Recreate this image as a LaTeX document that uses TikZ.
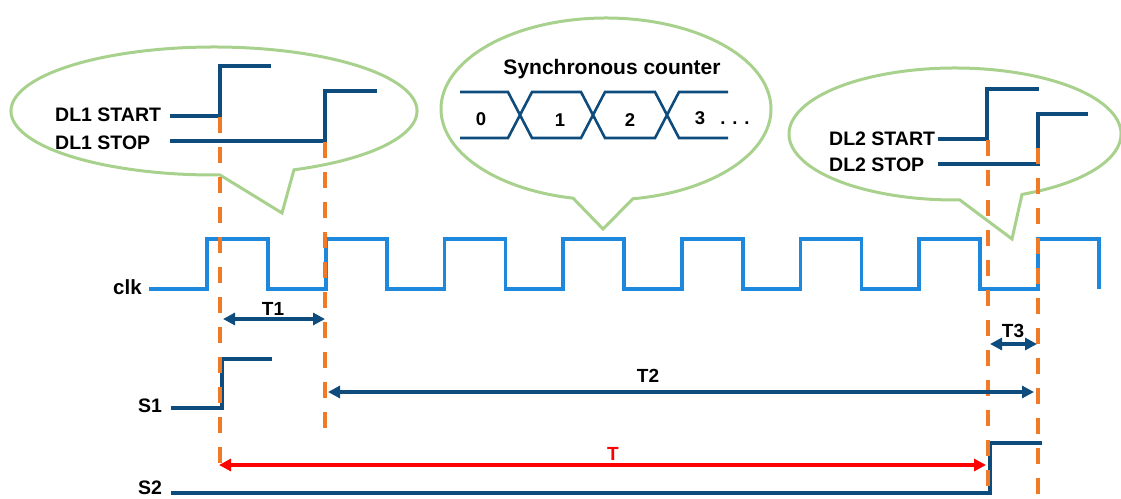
\documentclass[tikz,border=0pt]{standalone}
\usepackage{fontspec}
\setmainfont{Liberation Sans}
\usetikzlibrary{arrows.meta,calc}

\definecolor{sigblue}{HTML}{0E4C7E}
\definecolor{clkblue}{HTML}{1E88DC}
\definecolor{bubblegreen}{HTML}{A9D18E}
\definecolor{markorange}{HTML}{F07A26}
\definecolor{spanred}{HTML}{FF0000}

\begin{document}
\begin{tikzpicture}[x=1pt,y=-1pt,
  bubble/.style={draw=bubblegreen,line width=3pt},
  sig/.style={draw=sigblue,line width=4pt},
  bus/.style={draw=sigblue,line width=2.6pt},
  clkline/.style={draw=clkblue,line width=3.8pt},
  marker/.style={draw=markorange,line width=3.5pt,dash pattern=on 16pt off 14pt},
  span/.style={draw=sigblue,line width=3.6pt,
    {Triangle[length=12pt,width=12pt]}-{Triangle[length=12pt,width=12pt]}},
  redspan/.style={span,draw=spanred},
  lbl/.style={font=\bfseries\fontsize{19.5}{21}\selectfont,inner sep=0pt,anchor=base west},
  tlbl/.style={font=\bfseries\fontsize{19}{21}\selectfont,inner sep=0pt,anchor=base},
  num/.style={font=\bfseries\fontsize{18.5}{20}\selectfont,inner sep=0pt,anchor=base}
]
\useasboundingbox (0,0) rectangle (1121,498);

% speech bubbles: ellipse with a pointed tail
\coordinate (lb) at (214,111);
\coordinate (lbtip) at (282,213);
\draw[bubble] ($(lb)+(293.2:203pt and 64pt)$)
  arc[start angle=293.2,end angle=631.7,x radius=203pt,y radius=64pt]
  -- (lbtip) -- cycle;

\coordinate (mb) at (606,109);
\coordinate (mbtip) at (603,229);
\draw[bubble] ($(mb)+(279.4:165pt and 91pt)$)
  arc[start angle=279.4,end angle=618.5,x radius=165pt,y radius=91pt]
  -- (mbtip) -- cycle;

\coordinate (rb) at (955,134);
\coordinate (rbtip) at (1012,239);
\draw[bubble] ($(rb)+(293.8:166pt and 66pt)$)
  arc[start angle=293.8,end angle=631.7,x radius=166pt,y radius=66pt]
  -- (rbtip) -- cycle;

% DL1 start / stop pulses
\node[lbl] (dl1start) at (55,121.7) {DL1 START};
\node[lbl] (dl1stop) at (55,149) {DL1 STOP};
\draw[sig] (170,116) -- (220,116) -- (220,66) -- (271,66);
\draw[sig] (170,141) -- (325,141) -- (325,91) -- (377,91);

% DL2 start / stop pulses
\node[lbl] (dl2start) at (829,145) {DL2 START};
\node[lbl] (dl2stop) at (829,171.5) {DL2 STOP};
\draw[sig] (938,139) -- (987,139) -- (987,89) -- (1039,89);
\draw[sig] (938,164) -- (1038,164) -- (1038,114) -- (1088,114);

% synchronous counter bus
\node[font=\bfseries\fontsize{21}{23}\selectfont,inner sep=0pt,anchor=base] (counter) at (612,74) {Synchronous counter};
\draw[bus] (460,92) -- (508,92) -- (532,138) -- (581,138) -- (605,92) -- (655,92) -- (679,138) -- (728,138);
\draw[bus] (460,138) -- (508,138) -- (532,92) -- (581,92) -- (605,138) -- (655,138) -- (679,92) -- (728,92);
\node[num] (n0) at (481,125) {0};
\node[num] (n1) at (560,126.5) {1};
\node[num] (n2) at (630,126.5) {2};
\node[num] (n3) at (700,124.5) {3};
\node[num] (dots) at (735,124.5) {. . .};

% clock
\node[font=\bfseries\fontsize{20.5}{22}\selectfont,inner sep=0pt,anchor=base west] (clk) at (113,294) {clk};
\draw[clkline] (149,289) foreach \k in {0,...,7} {
  -- ({207+118.7*\k},289) -- ++(0,-50) -- ++(61,0) -- ++(0,50) };

% S1 and S2
\node[lbl] (s1) at (138,412.7) {S1};
\node[lbl] (s2) at (138,494.5) {S2};
\draw[sig] (171,408) -- (222,408) -- (222,359) -- (272,359);
\draw[sig] (171,493) -- (990,493) -- (990,443) -- (1042,443);

% event markers
\coordinate (m1a) at (220,117);  \coordinate (m1b) at (220,463);
\coordinate (m2a) at (325,142);  \coordinate (m2b) at (325,428);
\coordinate (m3a) at (988,140);  \coordinate (m3b) at (988,496);
\coordinate (m4a) at (1038,148); \coordinate (m4b) at (1038,496);
\draw[marker] (m1a) -- (m1b);
\draw[marker] (m2a) -- (m2b);
\draw[marker] (m3a) -- (m3b);
\draw[marker] (m4a) -- (m4b);

% intervals
\coordinate (t1a) at (223,319);  \coordinate (t1b) at (325,319);
\coordinate (t2a) at (328,392);  \coordinate (t2b) at (1034,392);
\coordinate (t3a) at (990,344);  \coordinate (t3b) at (1037,344);
\coordinate (ta) at (219,465);   \coordinate (tb) at (986,465);
\draw[span] (t1a) -- (t1b);
\draw[span] (t2a) -- (t2b);
\draw[span] (t3a) -- (t3b);
\draw[redspan] (ta) -- (tb);
\node[tlbl] (t1) at (273,315) {T1};
\node[tlbl] (t2) at (648,382.7) {T2};
\node[tlbl] (t3) at (1013,337) {T3};
\node[tlbl,text=spanred] (t) at (613,460) {T};
\end{tikzpicture}
\end{document}
